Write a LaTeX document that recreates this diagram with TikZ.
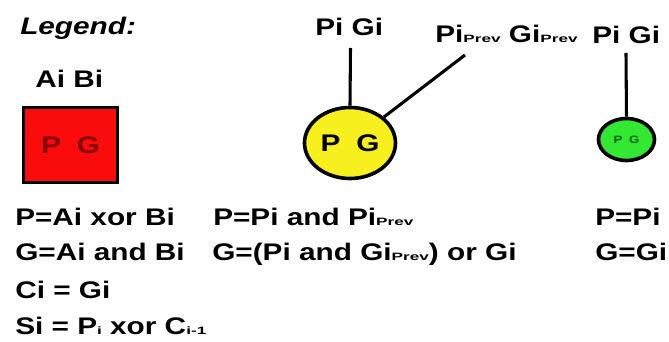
\documentclass[tikz,border=0pt]{standalone}
\usepackage{fontspec}
\setmainfont{Liberation Sans}[FakeStretch=1.24]
\usetikzlibrary{shapes.geometric}
\definecolor{boxred}{RGB}{250,12,12}
\definecolor{darkred}{RGB}{135,0,0}
\definecolor{ballyellow}{RGB}{248,240,30}
\definecolor{ballgreen}{RGB}{50,232,50}
\definecolor{darkgreen}{RGB}{0,95,0}
\newcommand{\sml}[1]{{\fontsize{8}{8}\selectfont\scalebox{1.3}[1]{#1}}}
\begin{document}
\begin{tikzpicture}[x=0.75pt,y=-0.75pt,
  txt/.style={font=\bfseries\fontsize{18}{20}\selectfont, inner sep=0pt, anchor=base west},
  conn/.style={line width=2.3pt, black},
  rbox/.style={draw=black, line width=2.7pt, fill=boxred, rectangle, minimum width=70.5pt, minimum height=56.25pt, inner sep=0pt, text=darkred, font=\bfseries\fontsize{18}{20}\selectfont},
  ybal/.style={draw=black, line width=2.7pt, fill=ballyellow, ellipse, minimum width=68.25pt, minimum height=53.25pt, inner sep=0pt, font=\bfseries\fontsize{18}{20}\selectfont},
  gbal/.style={draw=black, line width=2.7pt, fill=ballgreen, ellipse, minimum width=42pt, minimum height=31.5pt, inner sep=0pt, text=darkgreen, font=\bfseries\fontsize{8}{8}\selectfont}]
\fill[white] (0,0) rectangle (669,342);
\useasboundingbox (0,0) rectangle (669,342);
% legend column 1
\node[txt] (leg) at (20,35) {\itshape Legend:};
\node[txt] (ab) at (35,88) {Ai Bi};
\node[rbox] (rb) at (70.5,145) {P\hspace{12pt}G};
% yellow node
\node[txt] (pg1) at (315,36) {Pi Gi};
\node[txt] (pgp) at (435,43) {Pi\sml{Prev} Gi\sml{Prev}};
\node[ybal] (ye) at (350,143) {P\hspace{12pt}G};
\coordinate (c1) at (350.5,48);
\coordinate (c2) at (465,55);
\draw[conn] (c1) -- (ye.north);
\draw[conn] (c2) -- (ye);
% green node
\node[txt] (pg2) at (592,44) {Pi Gi};
\node[gbal] (gr) at (626.5,139.5) {P\hspace{5pt}G};
\coordinate (c3) at (626,53);
\draw[conn] (c3) -- (gr.north);
% formulas
\node[txt] (l1) at (15,226) {P=Ai xor Bi};
\node[txt] (l2) at (15,261) {G=Ai and Bi};
\node[txt] (l3) at (15,299) {Ci = Gi};
\node[txt] (l4) at (15,335) {Si = P\sml{i} xor C\sml{i-1}};
\node[txt] (m1) at (213,226) {P=Pi and Pi\sml{Prev}};
\node[txt] (m2) at (212,261) {G=(Pi and Gi\sml{Prev}) or Gi};
\node[txt] (r1) at (595,226) {P=Pi};
\node[txt] (r2) at (595,261) {G=Gi};
\end{tikzpicture}
\end{document}
